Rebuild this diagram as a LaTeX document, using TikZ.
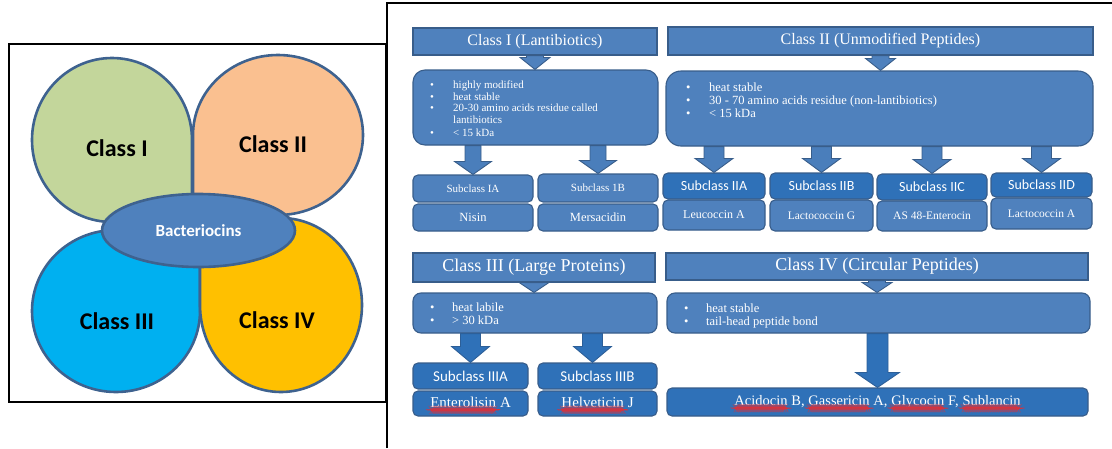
\documentclass[tikz,border=0pt]{standalone}
\usepackage{fontspec}
\setmainfont{Liberation Serif}
\newfontfamily\calibri{Carlito}
\usetikzlibrary{shapes.geometric,calc,decorations.pathmorphing}
\definecolor{boxfill}{RGB}{79,129,189}
\definecolor{boxline}{RGB}{56,93,138}
\definecolor{darkfill}{RGB}{47,113,184}
\definecolor{darkline}{RGB}{45,95,152}
\definecolor{arrfill}{RGB}{74,126,187}
\definecolor{petline}{RGB}{62,98,143}
\definecolor{pgreen}{RGB}{195,214,155}
\definecolor{porange}{RGB}{250,192,144}
\definecolor{pblue}{RGB}{0,176,240}
\definecolor{pyellow}{RGB}{255,192,0}
\definecolor{spell}{RGB}{215,50,60}
% word with a red wavy spell-check underline
\newcommand\redwave[1]{\tikz[baseline=(w.base)]{\node[inner sep=0pt, outer sep=0pt, minimum width=0pt,
  minimum height=0pt, draw=none, fill=none, rounded corners=0pt, anchor=base] (w) at (0,0) {#1};
  \draw[spell, line width=0.3pt, decorate, decoration={snake, amplitude=0.45pt, segment length=2pt}]
  ([yshift=-2.8pt]w.base west) -- ([yshift=-2.8pt]w.base east);}}
% block arrow: [style]{start}{end}{shaft half}{head half}{head length}
\newcommand\barrow[6][]{%
  \draw[#1] let \p1=(#2), \p2=(#3) in
    (\x1-#4,\y1) -- (\x1+#4,\y1) -- (\x1+#4,\y2+#6) -- (\x1+#5,\y2+#6) --
    (\x1,\y2) -- (\x1-#5,\y2+#6) -- (\x1-#4,\y2+#6) -- cycle;}
\begin{document}
\begin{tikzpicture}[x=1pt,y=-1pt,
  petal/.style={draw=petline, line width=2.6pt, line join=round},
  plabel/.style={font=\calibri\bfseries\fontsize{24}{24}\selectfont, text=black},
  hdr/.style={draw=boxline, fill=boxfill, line width=1.1pt, inner sep=0pt, text=white},
  det/.style={hdr, rounded corners=12pt},
  detlow/.style={hdr, rounded corners=8pt},
  sub/.style={hdr, rounded corners=5pt},
  subd/.style={sub, fill=darkfill},
  dtext/.style={text=white, inner sep=0pt, anchor=north west},
  chev/.style={draw=boxline, fill=boxfill, line width=0.9pt},
  arrlight/.style={draw=boxline, fill=arrfill, line width=0.9pt},
  arrdark/.style={draw=darkline, fill=darkfill, line width=0.9pt},
  tnorm/.style={font=\fontsize{#1}{#1}\selectfont},
  tsans/.style={font=\calibri\fontsize{#1}{#1}\selectfont}
]
\useasboundingbox (0,0) rectangle (1112,448);
% ---------- frames ----------
\draw[line width=1.3pt] (9,44) rectangle (386,402);
\draw[line width=1.5pt] (387,448) -- (387,3) -- (1112,3);
% ---------- petals ----------
\draw[petal, fill=pgreen] (192,222) -- (112,222) arc[start angle=90, end angle=360, x radius=80, y radius=82] -- cycle;
\draw[petal, fill=porange] (193,215) -- (193,135) arc[start angle=180, end angle=450, x radius=85, y radius=80] -- cycle;
\draw[petal, fill=pblue] (200,230) -- (116,230) arc[start angle=270, end angle=0, x radius=84, y radius=81] -- cycle;
\draw[petal, fill=pyellow] (200,218) -- (281,218) arc[start angle=270, end angle=540, x radius=81, y radius=87] -- cycle;
\node[plabel] (c1) at (117,148) {Class I};
\node[plabel] (c2) at (273,144) {Class II};
\node[plabel] (c3) at (117,321) {Class III};
\node[plabel] (c4) at (277,320) {Class IV};
\node[ellipse, draw=petline, line width=2.6pt, fill=boxfill, minimum width=193, minimum height=73,
      inner sep=0pt, text=white, font=\calibri\bfseries\fontsize{17}{17}\selectfont] (bac) at (198.5,230.5) {Bacteriocins};
% ---------- Class I ----------
\node[hdr, minimum width=244, minimum height=27, tnorm=16] (h1) at (535,41.5) {Class I (Lantibiotics)};
\node[det, minimum width=245, minimum height=75] (d1) at (535.5,107.5) {};
\node[dtext, font=\fontsize{11}{11.5}\selectfont] (t1) at (430,80.5)
  {\begin{tabular}{@{}p{23pt}@{}l@{}}\textbullet & highly modified\\ \textbullet & heat stable\\ \textbullet & 20-30 amino acids residue called\\ & lantibiotics\\[1.5pt] \textbullet & < 15 kDa\end{tabular}};
\node[sub, minimum width=120, minimum height=27, tnorm=11] (s1a) at (473,188.5) {Subclass IA};
\node[sub, minimum width=120, minimum height=27, tnorm=12.5] (n1a) at (473,217.5) {Nisin};
\node[sub, minimum width=120, minimum height=28, tnorm=11] (s1b) at (598,188) {Subclass 1B};
\node[sub, minimum width=120, minimum height=27, tnorm=12.5] (n1b) at (598,217.5) {Mersacidin};
\barrow[chev]{h1.south}{d1.north}{8.5pt}{15pt}{12pt}
\barrow[arrlight]{s1a.north |- d1.south}{s1a.north}{8pt}{18.5pt}{13pt}
\barrow[arrlight]{s1b.north |- d1.south}{s1b.north}{8pt}{18.5pt}{13pt}
% ---------- Class II ----------
\node[hdr, minimum width=425, minimum height=28, tnorm=16] (h2) at (880.5,41) {Class II (Unmodified Peptides)};
\node[det, rounded corners=15pt, minimum width=427, minimum height=75] (d2) at (879.5,108.5) {};
\node[dtext, font=\fontsize{12.5}{13}\selectfont] (t2) at (686,82)
  {\begin{tabular}{@{}p{23pt}@{}l@{}}\textbullet & heat stable\\ \textbullet & 30 - 70 amino acids residue (non-lantibiotics)\\ \textbullet & < 15 kDa\end{tabular}};
\node[subd, minimum width=102, minimum height=26, tsans=14] (s2a) at (714,186) {Subclass IIA};
\node[sub, minimum width=102, minimum height=30, tnorm=12] (n2a) at (714,215) {Leucoccin A};
\node[subd, minimum width=103, minimum height=26, tsans=14] (s2b) at (821.5,186) {Subclass IIB};
\node[sub, minimum width=103, minimum height=31, tnorm=11.5] (n2b) at (821.5,215.5) {Lactococcin G};
\node[subd, minimum width=110, minimum height=26, tsans=14] (s2c) at (932,187) {Subclass IIC};
\node[sub, minimum width=110, minimum height=30, tnorm=11.5] (n2c) at (932,216) {AS 48-Enterocin};
\node[subd, minimum width=101, minimum height=24, tsans=14] (s2d) at (1041.5,185) {Subclass IID};
\node[sub, minimum width=101, minimum height=31, tnorm=11.5] (n2d) at (1041.5,213.5) {Lactococcin A};
\barrow[chev]{h2.south}{d2.north}{8.5pt}{15pt}{12pt}
\barrow[arrlight]{s2a.north |- d2.south}{s2a.north}{10pt}{19pt}{14pt}
\barrow[arrlight]{s2b.north |- d2.south}{s2b.north}{10pt}{19pt}{14pt}
\barrow[arrlight]{s2c.north |- d2.south}{s2c.north}{10pt}{19pt}{14pt}
\barrow[arrlight]{s2d.north |- d2.south}{s2d.north}{10pt}{19pt}{14pt}
% ---------- Class III ----------
\node[hdr, minimum width=242, minimum height=29, tnorm=18] (h3) at (534,267.5) {Class III (Large Proteins)};
\node[detlow, minimum width=244, minimum height=40] (d3) at (535,313) {};
\node[dtext, font=\fontsize{12.5}{13}\selectfont] (t3) at (430,302)
  {\begin{tabular}{@{}p{22pt}@{}l@{}}\textbullet & heat labile\\ \textbullet & > 30 kDa\end{tabular}};
\node[subd, minimum width=115, minimum height=26, tsans=15] (s3a) at (470.5,376) {Subclass IIIA};
\node[subd, minimum width=115, minimum height=25, tnorm=15] (n3a) at (470.5,403.5) {\redwave{Enterolisin} A};
\node[subd, minimum width=119, minimum height=26, tsans=15] (s3b) at (597.5,376) {Subclass IIIB};
\node[subd, minimum width=119, minimum height=25, tnorm=15] (n3b) at (597.5,403.5) {\redwave{Helveticin} J};
\barrow[chev]{h3.south}{d3.north}{8.5pt}{15pt}{10pt}
\barrow[arrdark]{s3a.north |- d3.south}{s3a.north}{10pt}{19pt}{16pt}
\barrow[arrdark]{[xshift=-5pt]s3b.north |- d3.south}{[xshift=-5pt]s3b.north}{10pt}{19pt}{16pt}
% ---------- Class IV ----------
\node[hdr, minimum width=422, minimum height=27, tnorm=18] (h4) at (877,266.5) {Class IV (Circular Peptides)};
\node[detlow, minimum width=423, minimum height=40] (d4) at (878.5,313) {};
\node[dtext, font=\fontsize{12.5}{13}\selectfont] (t4) at (684,303)
  {\begin{tabular}{@{}p{22pt}@{}l@{}}\textbullet & heat stable\\ \textbullet & tail-head peptide bond\end{tabular}};
\node[subd, minimum width=421, minimum height=28, tnorm=14.5] (f4) at (877.5,402)
  {\redwave{Acidocin} B, \redwave{Gassericin} A, \redwave{Glycocin} F, \redwave{Sublancin}};
\barrow[chev]{h4.south}{d4.north}{8.5pt}{15pt}{10pt}
\barrow[arrdark]{f4.north |- d4.south}{f4.north}{10.5pt}{22pt}{15pt}
\end{tikzpicture}
\end{document}
